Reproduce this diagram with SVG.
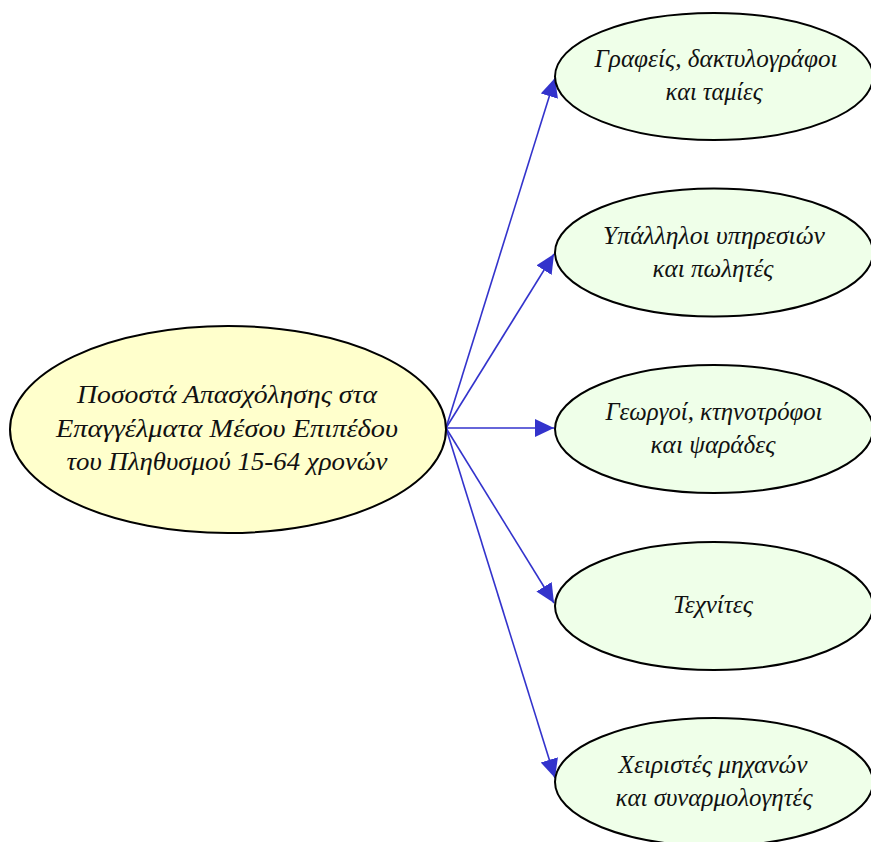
<svg xmlns="http://www.w3.org/2000/svg" width="871" height="842" viewBox="0 0 871 842">
<style>
.bg{fill:#ffffff}
.main{fill:#ffffcc;stroke:#000;stroke-width:2}
.leaf{fill:#efffe9;stroke:#000;stroke-width:2}
.t{font-family:"Liberation Serif","DejaVu Serif",serif;font-style:italic;font-size:26px;fill:#111;text-anchor:middle}
.edge{stroke:#3333cc;stroke-width:1.6;fill:none}
</style>
<defs>
<marker id="arr" markerUnits="userSpaceOnUse" markerWidth="20" markerHeight="20" refX="19" refY="9" orient="auto">
<path d="M0,0 L19,9 L0,18 Z" fill="#3333cc"/>
</marker>
</defs>
<rect class="bg" x="0" y="0" width="871" height="842"/>
<g id="connectors">
<line class="edge" x1="446" y1="428" x2="555" y2="78" marker-end="url(#arr)"/>
<line class="edge" x1="446" y1="428" x2="554" y2="254" marker-end="url(#arr)"/>
<line class="edge" x1="446" y1="428" x2="554" y2="428" marker-end="url(#arr)"/>
<line class="edge" x1="446" y1="428" x2="554" y2="603" marker-end="url(#arr)"/>
<line class="edge" x1="446" y1="428" x2="555" y2="778" marker-end="url(#arr)"/>
</g>
<g id="center">
<ellipse class="main" cx="228" cy="429.5" rx="218" ry="103.5"/>
<text class="t" x="227" y="403" textLength="300" lengthAdjust="spacingAndGlyphs">Ποσοστά Απασχόλησης στα</text>
<text class="t" x="227" y="437" textLength="342" lengthAdjust="spacingAndGlyphs">Επαγγέλματα Μέσου Επιπέδου</text>
<text class="t" x="227" y="470" textLength="321" lengthAdjust="spacingAndGlyphs">του Πληθυσμού 15-64 χρονών</text>
</g>
<g id="n1">
<ellipse class="leaf" cx="714" cy="76.5" rx="159" ry="63.5"/>
<text class="t" x="716" y="67" textLength="243" lengthAdjust="spacingAndGlyphs">Γραφείς, δακτυλογράφοι</text>
<text class="t" x="714" y="100" textLength="97" lengthAdjust="spacingAndGlyphs">και ταμίες</text>
</g>
<g id="n2">
<ellipse class="leaf" cx="714" cy="252.5" rx="159" ry="64"/>
<text class="t" x="714" y="244" textLength="222" lengthAdjust="spacingAndGlyphs">Υπάλληλοι υπηρεσιών</text>
<text class="t" x="713" y="277" textLength="121" lengthAdjust="spacingAndGlyphs">και πωλητές</text>
</g>
<g id="n3">
<ellipse class="leaf" cx="714" cy="429" rx="159" ry="64"/>
<text class="t" x="714" y="420" textLength="217" lengthAdjust="spacingAndGlyphs">Γεωργοί, κτηνοτρόφοι</text>
<text class="t" x="713" y="453" textLength="125" lengthAdjust="spacingAndGlyphs">και ψαράδες</text>
</g>
<g id="n4">
<ellipse class="leaf" cx="714" cy="606" rx="159" ry="64"/>
<text class="t" x="713" y="613" textLength="80" lengthAdjust="spacingAndGlyphs">Τεχνίτες</text>
</g>
<g id="n5">
<ellipse class="leaf" cx="714" cy="782" rx="159" ry="64"/>
<text class="t" x="713" y="773" textLength="189" lengthAdjust="spacingAndGlyphs">Χειριστές μηχανών</text>
<text class="t" x="714" y="806" textLength="197" lengthAdjust="spacingAndGlyphs">και συναρμολογητές</text>
</g>
</svg>
